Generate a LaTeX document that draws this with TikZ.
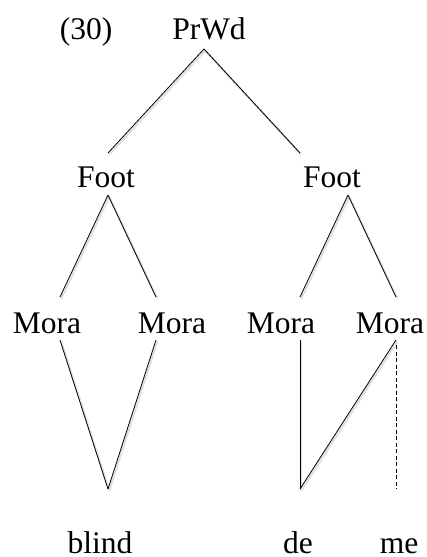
\documentclass[tikz,border=0pt]{standalone}
\usepackage{fontspec}
\setmainfont{Liberation Serif}
\begin{document}
\begin{tikzpicture}[x=1pt,y=-1pt,
  lbl/.style={anchor=base,inner sep=0pt,font=\fontsize{31.5}{36}\selectfont},
  edge/.style={line width=0.8pt,black,
    preaction={draw,black!12,line width=2.2pt,transform canvas={shift={(1.2pt,-1.6pt)}}}},
  dashedge/.style={line width=0.8pt,black,dash pattern=on 4pt off 2.5pt}]
\useasboundingbox (0,0) rectangle (427,557);
% labels
\node[lbl] (num) at (86,39) {(30)};
\node[lbl] (prwd) at (209,39) {PrWd};
\node[lbl] (footL) at (106,187) {Foot};
\node[lbl] (footR) at (332,187) {Foot};
\node[lbl] (m1) at (47,333) {Mora};
\node[lbl] (m2) at (172,333) {Mora};
\node[lbl] (m3) at (281,333) {Mora};
\node[lbl] (m4) at (390,333) {Mora};
\node[lbl] (blind) at (100,553) {blind};
\node[lbl] (de) at (298,553) {de};
\node[lbl] (me) at (399,553) {me};
% attachment points
\coordinate (prwdB) at (204,49);
\coordinate (footLT) at (108,153);
\coordinate (footRT) at (300,153);
\coordinate (footLB) at (108,195);
\coordinate (footRB) at (348,195);
\coordinate (m1T) at (60,297);
\coordinate (m2T) at (156,297);
\coordinate (m3T) at (300,297);
\coordinate (m4T) at (396,297);
\coordinate (m1B) at (60,340);
\coordinate (m2B) at (156,340);
\coordinate (m3B) at (300,340);
\coordinate (m4B) at (396,340);
\coordinate (m4D) at (396,345);
\coordinate (blindT) at (108,489);
\coordinate (deT) at (300,489);
\coordinate (meT) at (396,489);
% connectors
\draw[edge] (prwdB) -- (footLT);
\draw[edge] (prwdB) -- (footRT);
\draw[edge] (footLB) -- (m1T);
\draw[edge] (footLB) -- (m2T);
\draw[edge] (footRB) -- (m3T);
\draw[edge] (footRB) -- (m4T);
\draw[edge] (m1B) -- (blindT);
\draw[edge] (m2B) -- (blindT);
\draw[edge] (m3B) -- (deT);
\draw[edge] (m4B) -- (deT);
\draw[dashedge] (m4D) -- (meT);
\end{tikzpicture}
\end{document}
